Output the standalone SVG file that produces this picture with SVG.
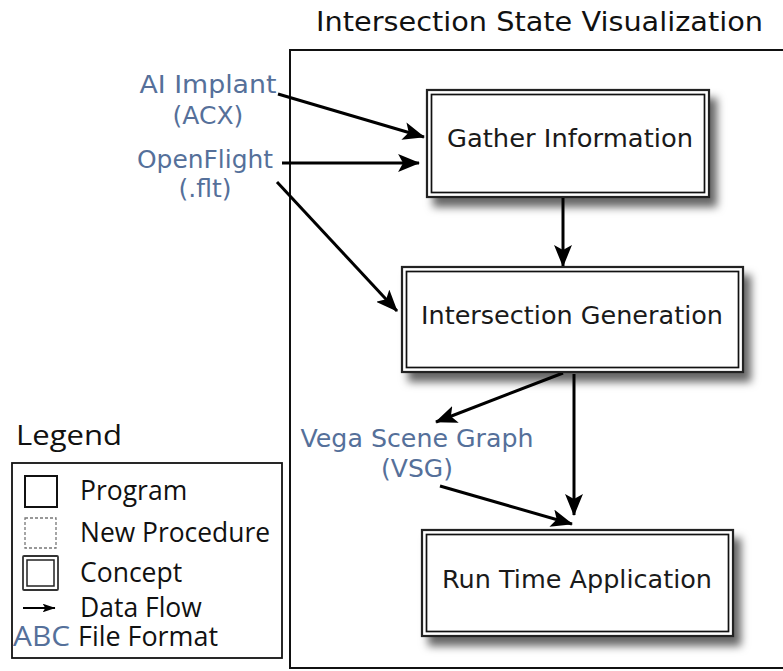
<svg xmlns="http://www.w3.org/2000/svg" width="783" height="671" viewBox="0 0 783 671">
  <style>
    .title { font-family: "DejaVu Sans", Verdana, sans-serif; font-size: 26px; fill: #111; }
    .label { font-family: "DejaVu Sans", Verdana, sans-serif; font-size: 25.5px; fill: #1a1a1a; text-anchor: middle; }
    .fmt { font-family: "DejaVu Sans", Verdana, sans-serif; font-size: 25px; fill: #55709a; text-anchor: middle; }
    .legend { font-family: "Open Sans", "Noto Sans", sans-serif; font-size: 26.5px; fill: #111; }
    .outer { fill: #fff; stroke: #222; stroke-width: 2.2; }
    .inner { fill: #fff; stroke: #111; stroke-width: 1.7; }
    .flow { stroke: #000; stroke-width: 3; fill: none; marker-end: url(#head); }
  </style>
  <defs>
    <marker id="head" viewBox="0 0 22 18" refX="21" refY="9" markerWidth="7.3" markerHeight="6" orient="auto" markerUnits="strokeWidth">
      <path d="M0,0 L22,9 L0,18 L5,9 z" fill="#000"/>
    </marker>
    <marker id="headSmall" viewBox="0 0 24 16" refX="23" refY="8" markerWidth="6.5" markerHeight="4.3" orient="auto" markerUnits="strokeWidth">
      <path d="M0,0 L24,8 L0,16 L5,8 z" fill="#000"/>
    </marker>
    <filter id="shadow" x="-10%" y="-10%" width="130%" height="140%">
      <feDropShadow dx="7" dy="9" stdDeviation="4" flood-color="#000" flood-opacity="0.6"/>
    </filter>
  </defs>

  <rect width="783" height="671" fill="#fff"/>

  <!-- system frame -->
  <g id="frame">
    <text class="title" x="316" y="31" textLength="447" lengthAdjust="spacingAndGlyphs">Intersection State Visualization</text>
    <rect x="290" y="50" width="500" height="618" fill="none" stroke="#111" stroke-width="2"/>
  </g>

  <!-- connectors -->
  <g id="connectors">
    <line class="flow" x1="278" y1="94" x2="424" y2="137"/>
    <line class="flow" x1="282" y1="163" x2="419" y2="163"/>
    <line class="flow" x1="277" y1="182" x2="397" y2="311"/>
    <line class="flow" x1="563" y1="197" x2="563" y2="266"/>
    <line class="flow" x1="563" y1="373" x2="436" y2="422"/>
    <line class="flow" x1="574" y1="374" x2="574" y2="515"/>
    <line class="flow" x1="440" y1="486" x2="572" y2="524"/>
  </g>

  <!-- concept nodes -->
  <g id="gather">
    <g filter="url(#shadow)">
      <rect class="outer" x="427" y="90" width="282" height="107"/>
    </g>
    <rect class="inner" x="431.5" y="94.5" width="273" height="98"/>
    <text class="label" x="570" y="147" textLength="246" lengthAdjust="spacingAndGlyphs">Gather Information</text>
  </g>

  <g id="generation">
    <g filter="url(#shadow)">
      <rect class="outer" x="402" y="267" width="341" height="105"/>
    </g>
    <rect class="inner" x="406.5" y="271.5" width="332" height="96"/>
    <text class="label" x="572" y="324" textLength="302" lengthAdjust="spacingAndGlyphs">Intersection Generation</text>
  </g>

  <g id="runtime">
    <g filter="url(#shadow)">
      <rect class="outer" x="422" y="530" width="311" height="106"/>
    </g>
    <rect class="inner" x="426.5" y="534.5" width="302" height="97"/>
    <text class="label" x="577" y="588" textLength="270" lengthAdjust="spacingAndGlyphs">Run Time Application</text>
  </g>

  <!-- file formats -->
  <g id="acx">
    <text class="fmt" x="208" y="93" textLength="137" lengthAdjust="spacingAndGlyphs">AI Implant</text>
    <text class="fmt" x="208" y="124">(ACX)</text>
  </g>
  <g id="flt">
    <text class="fmt" x="205" y="168" textLength="136" lengthAdjust="spacingAndGlyphs">OpenFlight</text>
    <text class="fmt" x="205" y="197">(.flt)</text>
  </g>
  <g id="vsg">
    <text class="fmt" x="417" y="447" textLength="233" lengthAdjust="spacingAndGlyphs">Vega Scene Graph</text>
    <text class="fmt" x="417" y="477">(VSG)</text>
  </g>

  <!-- legend -->
  <g id="legend">
    <text class="legend" x="16" y="445" style="font-size:28px" textLength="106" lengthAdjust="spacingAndGlyphs">Legend</text>
    <rect x="12" y="463" width="270" height="195" fill="#fff" stroke="#111" stroke-width="1.8"/>
    <rect x="25" y="476" width="32" height="31" fill="none" stroke="#111" stroke-width="2"/>
    <text class="legend" x="80" y="500">Program</text>
    <rect x="25" y="518" width="31" height="30" fill="none" stroke="#777" stroke-width="1.3" stroke-dasharray="3,2"/>
    <text class="legend" x="80" y="542" textLength="190" lengthAdjust="spacingAndGlyphs">New Procedure</text>
    <rect x="23" y="556" width="35" height="34" fill="#fff" stroke="#333" stroke-width="1.8" rx="1"/>
    <rect x="27" y="560" width="27" height="26" fill="none" stroke="#222" stroke-width="1.5"/>
    <text class="legend" x="80" y="582">Concept</text>
    <line x1="23" y1="608" x2="55" y2="608" stroke="#000" stroke-width="2" marker-end="url(#headSmall)"/>
    <text class="legend" x="80" y="617">Data Flow</text>
    <text class="legend" x="13" y="646" style="fill:#55709a" textLength="57" lengthAdjust="spacingAndGlyphs">ABC</text>
    <text class="legend" x="78" y="646" textLength="140" lengthAdjust="spacingAndGlyphs">File Format</text>
  </g>
</svg>
